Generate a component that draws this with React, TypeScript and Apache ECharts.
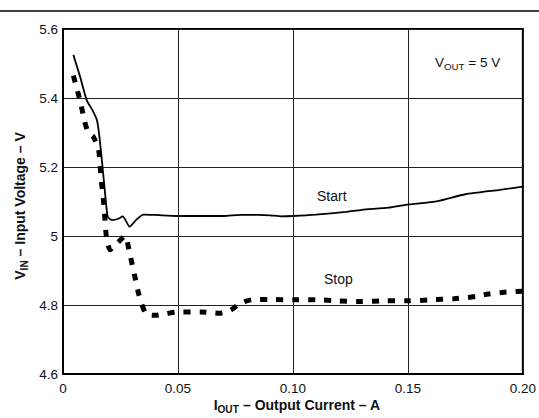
import React, { useEffect, useRef } from "react";
import * as echarts from "echarts";

const startCurrent = [0.0045, 0.0075, 0.0103, 0.0128, 0.0148, 0.0158, 0.0172, 0.0185, 0.0195, 0.0215, 0.024, 0.026, 0.029, 0.032, 0.035, 0.04, 0.05, 0.06, 0.07, 0.077, 0.085, 0.09, 0.095, 0.1, 0.11, 0.123, 0.13, 0.1416, 0.149, 0.163, 0.175, 0.19, 0.2];
const startVoltage = [5.525, 5.46, 5.394, 5.365, 5.335, 5.29, 5.2, 5.11, 5.055, 5.046, 5.05, 5.057, 5.027, 5.048, 5.062, 5.061, 5.058, 5.058, 5.058, 5.061, 5.061, 5.06, 5.057, 5.058, 5.062, 5.07, 5.076, 5.082, 5.09, 5.101, 5.121, 5.134, 5.143];

const stopCurrent = [0.0045, 0.0075, 0.0095, 0.011, 0.013, 0.0155, 0.0165, 0.0175, 0.018, 0.019, 0.0205, 0.023, 0.027, 0.029, 0.031, 0.033, 0.036, 0.04, 0.045, 0.05, 0.06, 0.068, 0.073, 0.077, 0.082, 0.09, 0.1, 0.11, 0.12, 0.13, 0.14, 0.15, 0.16, 0.17, 0.18, 0.185, 0.192, 0.2];
const stopVoltage = [5.465, 5.39, 5.33, 5.3, 5.29, 5.25, 5.17, 5.11, 5.07, 4.99, 4.96, 4.975, 5.0, 4.95, 4.89, 4.83, 4.775, 4.77, 4.775, 4.78, 4.78, 4.776, 4.785, 4.805, 4.815, 4.816, 4.815, 4.815, 4.812, 4.81, 4.812, 4.812, 4.815, 4.818, 4.825, 4.832, 4.837, 4.84];

const xTickLabels = ["0", "0.05", "0.10", "0.15", "0.20"];
const yTickLabels = ["4.6", "4.8", "5", "5.2", "5.4", "5.6"];

const FONT = "'Liberation Sans', Arial, sans-serif";

const zip = (xs: number[], ys: number[]) => xs.map((x, i) => [x, ys[i]]);

const richStyles = (size: number, bold: boolean) => ({
  a: { fontSize: size, fontWeight: bold ? "bold" : "normal", fontFamily: FONT, lineHeight: 18, verticalAlign: "middle", fill: "#111" },
  s: { fontSize: size * 0.72, fontWeight: bold ? "bold" : "normal", fontFamily: FONT, lineHeight: 10, verticalAlign: "bottom", fill: "#111" },
});

export default function App() {
  const ref = useRef<HTMLDivElement>(null);
  useEffect(() => {
    if (!ref.current) return;
    const chart = echarts.init(ref.current, null, { renderer: "svg" });
    chart.setOption({
      animation: false,
      backgroundColor: "#fff",
      grid: { left: 63, right: 14, top: 29, bottom: 44, show: true, borderColor: "#000", borderWidth: 2 },
      xAxis: {
        type: "value",
        min: 0,
        max: 0.2,
        interval: 0.05,
        axisLine: { show: true, onZero: false, lineStyle: { color: "#000", width: 2 } },
        axisTick: { show: false },
        splitLine: { show: true, lineStyle: { color: "#222", width: 1 } },
        axisLabel: {
          margin: 7,
          fontSize: 13.5,
          fontFamily: FONT,
          color: "#111",
          formatter: (v: number) => xTickLabels[Math.round(v / 0.05)] ?? "",
        },
      },
      yAxis: {
        type: "value",
        min: 4.6,
        max: 5.6,
        interval: 0.2,
        axisLine: { show: true, lineStyle: { color: "#000", width: 2 } },
        axisTick: { show: false },
        splitLine: { show: true, lineStyle: { color: "#222", width: 1 } },
        axisLabel: {
          margin: 5,
          fontSize: 13.5,
          fontFamily: FONT,
          color: "#111",
          formatter: (v: number) => yTickLabels[Math.round((v - 4.6) / 0.2)] ?? "",
        },
      },
      series: [
        {
          name: "Start",
          type: "line",
          data: zip(startCurrent, startVoltage),
          showSymbol: false,
          smooth: 0.2,
          lineStyle: { color: "#000", width: 1.8 },
          z: 3,
        },
        {
          name: "Stop",
          type: "line",
          data: zip(stopCurrent, stopVoltage),
          showSymbol: false,
          smooth: 0.2,
          lineStyle: { color: "#000", width: 5, type: [7, 9], cap: "butt" },
          z: 3,
        },
      ],
      graphic: [
        { type: "line", shape: { x1: 0, y1: 11, x2: 539, y2: 11 }, style: { stroke: "#000", lineWidth: 1.5 } },
        {
          type: "text",
          x: 435,
          y: 62,
          style: { text: "{a|V}{s|OUT}{a| = 5 V}", rich: richStyles(13.5, false), align: "left", verticalAlign: "middle" },
        },
        { type: "text", x: 317, y: 196, style: { text: "Start", fontSize: 14, fontFamily: FONT, fill: "#111", align: "left", verticalAlign: "middle" } },
        { type: "text", x: 324, y: 279, style: { text: "Stop", fontSize: 14, fontFamily: FONT, fill: "#111", align: "left", verticalAlign: "middle" } },
        {
          type: "text",
          x: 297,
          y: 405,
          style: { text: "{a|I}{s|OUT}{a| – Output Current – A}", rich: richStyles(14, true), align: "center", verticalAlign: "middle" },
        },
        {
          type: "text",
          x: 20,
          y: 206,
          rotation: Math.PI / 2,
          style: { text: "{a|V}{s|IN}{a| – Input Voltage – V}", rich: richStyles(14, true), align: "center", verticalAlign: "middle" },
        },
      ],
    });
    return () => chart.dispose();
  }, []);
  return <div ref={ref} style={{ position: "fixed", left: 0, top: 0, width: 539, height: 418 }} />;
}
